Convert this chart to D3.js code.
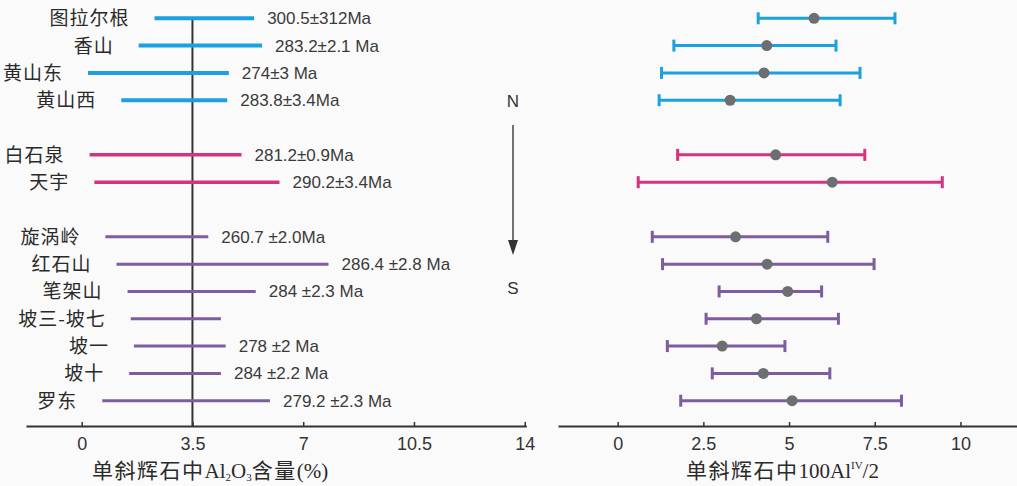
<!DOCTYPE html>
<html>
<head>
<meta charset="utf-8">
<script src="https://cdn.jsdelivr.net/npm/d3@7"></script>
<style>
  body { margin: 0; background: #fafafa; }
  svg { display: block; }
</style>
</head>
<body>
<script>
// sites, north to south
const sites = ["图拉尔根", "香山", "黄山东", "黄山西", "白石泉", "天宇", "旋涡岭", "红石山", "笔架山", "坡三-坡七", "坡一", "坡十", "罗东"];
const groups = ["N", "N", "N", "N", "M", "M", "S", "S", "S", "S", "S", "S", "S"];
// Al2O3 range in cpx (%)
const al2o3Min = [2.3, 1.8, 0.2, 1.25, 0.25, 0.4, 0.75, 1.1, 1.45, 1.55, 1.65, 1.5, 0.65];
const al2o3Max = [5.45, 5.7, 4.65, 4.6, 5.05, 6.25, 4.0, 7.8, 5.5, 4.4, 4.55, 4.4, 5.95];
const ages = ["300.5±312Ma", "283.2±2.1 Ma", "274±3 Ma", "283.8±3.4Ma", "281.2±0.9Ma", "290.2±3.4Ma",
  "260.7 ±2.0Ma", "286.4 ±2.8 Ma", "284 ±2.3 Ma", "", "278 ±2 Ma", "284 ±2.2 Ma", "279.2 ±2.3 Ma"];
// 100AlIV/2 min / mean / max
const alivMin = [4.1, 1.64, 1.28, 1.21, 1.75, 0.6, 1.01, 1.31, 2.96, 2.58, 1.45, 2.76, 1.84];
const alivMean = [5.73, 4.35, 4.27, 3.28, 4.61, 6.26, 3.44, 4.36, 4.96, 4.05, 3.05, 4.25, 5.09];
const alivMax = [8.09, 6.37, 7.07, 6.49, 7.21, 9.47, 6.13, 7.48, 5.95, 6.44, 4.88, 6.19, 8.28];
const leftTicks = [0, 3.5, 7, 10.5, 14];
const rightTicks = [0, 2.5, 5, 7.5, 10];

const w = 1017, h = 486;
const axisY = 426;
const color = { N: "#1ba1e0", M: "#d6327f", S: "#7d5d9f" };
const lw = { N: 4, M: 3.5, S: 3 };
const cjk = "'Noto Sans CJK SC', sans-serif";
const sans = "'Liberation Sans', Arial, sans-serif";
const serif = "'Liberation Serif', 'Times New Roman', serif";

// one empty row between groups
const slot = [];
let s = 0;
groups.forEach((g, i) => {
  if (i > 0 && g !== groups[i - 1]) s++;
  slot.push(s);
  s++;
});

const y = d3.scaleLinear().domain([0, 14]).range([18.3, 400.7]);
const xL = d3.scaleLinear().domain([-1.76, 14.05]).range([26, 526.3]);
const xR = d3.scaleLinear().domain([-1.74, 11.65]).range([558, 1017]);

const svg = d3.select("body").append("svg")
  .attr("width", w)
  .attr("height", h);

const rows = sites.map((d, i) => i);

// ---- left panel ----
svg.append("line")
  .attr("x1", xL(3.5)).attr("x2", xL(3.5))
  .attr("y1", 18).attr("y2", axisY)
  .attr("stroke", "#333").attr("stroke-width", 2);

svg.selectAll("line.al")
  .data(rows)
  .enter()
  .append("line")
  .attr("class", "al")
  .attr("x1", (i) => xL(al2o3Min[i]))
  .attr("x2", (i) => xL(al2o3Max[i]))
  .attr("y1", (i) => y(slot[i]))
  .attr("y2", (i) => y(slot[i]))
  .attr("stroke", (i) => color[groups[i]])
  .attr("stroke-width", (i) => lw[groups[i]]);

svg.selectAll("text.site")
  .data(rows)
  .enter()
  .append("text")
  .attr("class", "site")
  .attr("x", (i) => xL(al2o3Min[i]) - 25)
  .attr("y", (i) => y(slot[i]) + 7)
  .attr("text-anchor", "end")
  .attr("font-family", cjk)
  .attr("font-size", 19)
  .attr("letter-spacing", 1)
  .attr("fill", "#2a2a2a")
  .text((i) => sites[i]);

svg.selectAll("text.age")
  .data(rows)
  .enter()
  .append("text")
  .attr("class", "age")
  .attr("x", (i) => xL(al2o3Max[i]) + 13)
  .attr("y", (i) => y(slot[i]) + 6)
  .attr("font-family", sans)
  .attr("font-size", 17)
  .attr("fill", "#3a3a3a")
  .text((i) => ages[i]);

const xAxisL = d3.axisBottom(xL)
  .tickValues(leftTicks)
  .tickFormat(d3.format("~g"))
  .tickSizeInner(-4)
  .tickSizeOuter(0)
  .tickPadding(11);

const gL = svg.append("g")
  .attr("transform", "translate(0," + axisY + ")")
  .call(xAxisL);

// ---- right panel ----
svg.selectAll("line.bar")
  .data(rows)
  .enter()
  .append("line")
  .attr("class", "bar")
  .attr("x1", (i) => xR(alivMin[i]))
  .attr("x2", (i) => xR(alivMax[i]))
  .attr("y1", (i) => y(slot[i]))
  .attr("y2", (i) => y(slot[i]))
  .attr("stroke", (i) => color[groups[i]])
  .attr("stroke-width", 3);

[alivMin, alivMax].forEach((arr) => {
  svg.append("g").selectAll("line")
    .data(rows)
    .enter()
    .append("line")
    .attr("x1", (i) => xR(arr[i]))
    .attr("x2", (i) => xR(arr[i]))
    .attr("y1", (i) => y(slot[i]) - 6)
    .attr("y2", (i) => y(slot[i]) + 6)
    .attr("stroke", (i) => color[groups[i]])
    .attr("stroke-width", 3);
});

svg.selectAll("circle")
  .data(rows)
  .enter()
  .append("circle")
  .attr("cx", (i) => xR(alivMean[i]))
  .attr("cy", (i) => y(slot[i]))
  .attr("r", 5.5)
  .attr("fill", "#6d6e70");

const xAxisR = d3.axisBottom(xR)
  .tickValues(rightTicks)
  .tickFormat(d3.format("~g"))
  .tickSizeInner(-4)
  .tickSizeOuter(0)
  .tickPadding(11);

const gR = svg.append("g")
  .attr("transform", "translate(0," + axisY + ")")
  .call(xAxisR);

[gL, gR].forEach((g) => {
  g.select(".domain").attr("stroke", "#333").attr("stroke-width", 2);
  g.selectAll(".tick line").attr("stroke", "#333").attr("stroke-width", 1.5);
  g.selectAll(".tick text")
    .attr("font-family", sans)
    .attr("font-size", 18)
    .attr("fill", "#333");
});

// ---- N / S arrow ----
const ax = 513;
svg.append("text")
  .attr("x", ax).attr("y", 107)
  .attr("text-anchor", "middle")
  .attr("font-family", sans).attr("font-size", 17).attr("fill", "#333")
  .text("N");
svg.append("line")
  .attr("x1", ax).attr("x2", ax)
  .attr("y1", 125).attr("y2", 243)
  .attr("stroke", "#444").attr("stroke-width", 1.5);
svg.append("path")
  .attr("d", "M" + (ax - 5) + ",240 L" + (ax + 5) + ",240 L" + ax + ",255 Z")
  .attr("fill", "#333");
svg.append("text")
  .attr("x", ax).attr("y", 294)
  .attr("text-anchor", "middle")
  .attr("font-family", sans).attr("font-size", 17).attr("fill", "#333")
  .text("S");

// ---- axis titles ----
const tL = svg.append("text")
  .attr("x", 92).attr("y", 478)
  .attr("font-size", 21)
  .attr("fill", "#2a2a2a");
tL.append("tspan").attr("font-family", cjk).attr("letter-spacing", 1.5).text("单斜辉石中");
tL.append("tspan").attr("font-family", serif).text("Al");
tL.append("tspan").attr("font-family", serif).attr("font-size", 11).attr("dy", 3).text("2");
tL.append("tspan").attr("font-family", serif).attr("dy", -3).text("O");
tL.append("tspan").attr("font-family", serif).attr("font-size", 11).attr("dy", 3).text("3");
tL.append("tspan").attr("font-family", cjk).attr("dy", -3).attr("letter-spacing", 1.5).text("含量");
tL.append("tspan").attr("font-family", serif).text("(%)");

const tR = svg.append("text")
  .attr("x", 686).attr("y", 478)
  .attr("font-size", 21)
  .attr("fill", "#2a2a2a");
tR.append("tspan").attr("font-family", cjk).attr("letter-spacing", 1.5).text("单斜辉石中");
tR.append("tspan").attr("font-family", serif).text("100Al");
tR.append("tspan").attr("font-family", serif).attr("font-size", 11).attr("dy", -9).text("IV");
tR.append("tspan").attr("font-family", serif).attr("dy", 9).text("/2");
</script>
</body>
</html>
